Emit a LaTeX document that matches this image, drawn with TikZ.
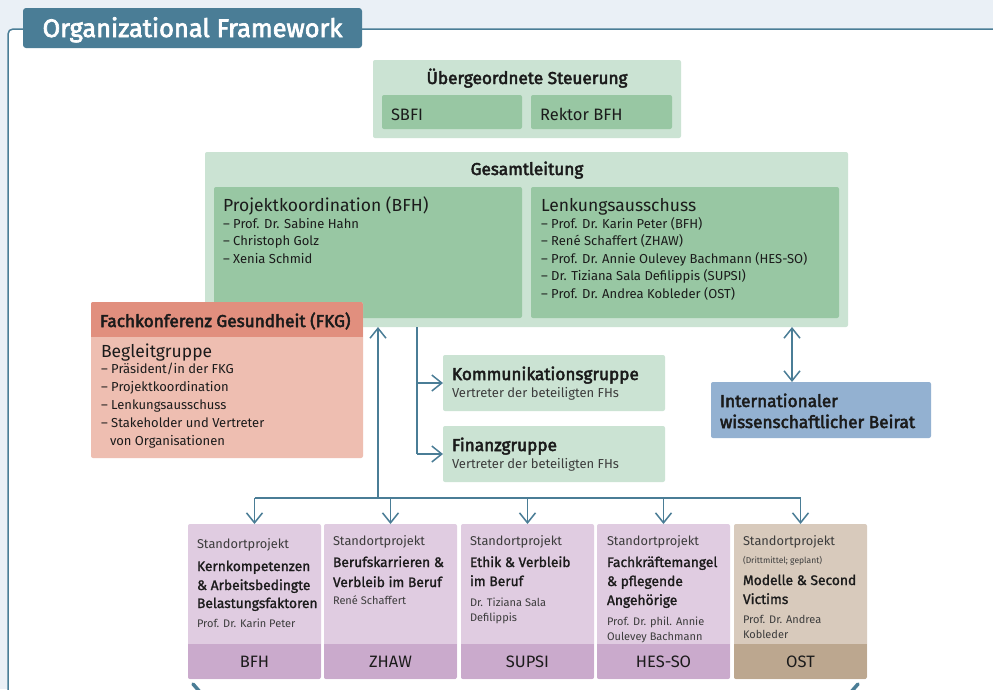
\documentclass[tikz,border=0pt]{standalone}
\usepackage{fontspec}
\setmainfont{Fira Sans}
\newfontfamily\medfont{Fira Sans}[FakeBold=1.4]
\newfontfamily\semifont{Fira Sans}[FakeBold=2.8]
\usetikzlibrary{arrows.meta,fit}
\definecolor{bgc}{HTML}{EAF0F6}
\definecolor{teal}{HTML}{4A7D96}
\definecolor{lgreen}{HTML}{CBE3D3}
\definecolor{mgreen}{HTML}{98C7A3}
\definecolor{salH}{HTML}{E18F7E}
\definecolor{salB}{HTML}{EEBEB1}
\definecolor{blueB}{HTML}{93B1D1}
\definecolor{purB}{HTML}{E0CCE1}
\definecolor{purF}{HTML}{CAAACC}
\definecolor{begB}{HTML}{D8CABC}
\definecolor{begF}{HTML}{BCA78F}
\definecolor{ink}{HTML}{1B1B1B}
\definecolor{subink}{HTML}{3C3C3C}
\newcommand\myfs[1]{\fontsize{#1}{#1}\selectfont}
\begin{document}
\begin{tikzpicture}[x=1pt,y=-1pt,
  boxn/.style={fit={#1}, inner sep=0pt, outer sep=0pt, rounded corners=2pt, draw=none},
  txt/.style={inner sep=0pt, outer sep=0pt, anchor=base west, text=ink},
  hd/.style={txt, font=\semifont\myfs{17.2}},
  big/.style={txt, font=\myfs{17.5}},
  itm/.style={txt, font=\myfs{13}},
  sp/.style={txt, text=subink, font=\myfs{12.8}},
  ttl/.style={txt, font=\medfont\myfs{13.8}},
  nm/.style={txt, text=subink, font=\myfs{11}},
  lnk/.style={draw=teal, line width=1.5pt},
  arr/.style={lnk, -{Straight Barb[length=10pt,width=16pt,line width=1.5pt]}},
  arrb/.style={lnk, {Straight Barb[length=10pt,width=16pt,line width=1.5pt]}-{Straight Barb[length=10pt,width=16pt,line width=1.5pt]}},
]
\useasboundingbox (0,0) rectangle (993,689);
\fill[bgc] (0,0) rectangle (993,689);
\fill[white, rounded corners=5pt] (8,720) |- (1010,29) |- cycle;
\draw[teal, line width=1.5pt, rounded corners=5pt] (8,720) |- (1010,29);

% title tab
\node[boxn={(23,8)(362,48)}, fill=teal, rounded corners=3pt] (tab) {};
\node[inner sep=0pt, anchor=base, text=white, font=\semifont\myfs{25.4}] (title) at (192.5,37) {Organizational Framework};

% Uebergeordnete Steuerung
\node[boxn={(373,60)(681,138)}, fill=lgreen] (ueb) {};
\node[hd, anchor=base] (uebt) at (527,84) {Übergeordnete Steuerung};
\node[boxn={(382,95)(522,129)}, fill=mgreen] (sbfi) {};
\node[boxn={(531,95)(672,129)}, fill=mgreen] (rek) {};
\node[txt, font=\myfs{16.5}] (sbfit) at (391,120) {SBFI};
\node[txt, font=\myfs{16.5}] (rekt) at (540,120) {Rektor BFH};

% Gesamtleitung
\node[boxn={(205,152)(848,327)}, fill=lgreen] (gl) {};
\node[hd, anchor=base] (glt) at (527,175) {Gesamtleitung};
\node[boxn={(214,187)(522,318)}, fill=mgreen] (pk) {};
\node[boxn={(531,187)(839,318)}, fill=mgreen] (la) {};
\node[big] (pkt) at (223,211) {Projektkoordination (BFH)};
\foreach \t [count=\i from 0] in {{– Prof. Dr. Sabine Hahn},{– Christoph Golz},{– Xenia Schmid}}
  \node[itm] (pk\i) at (223,{228+17.5*\i}) {\t};
\node[big] (lat) at (541,211) {Lenkungsausschuss};
\foreach \t [count=\i from 0] in {{– Prof. Dr. Karin Peter (BFH)},{– René Schaffert (ZHAW)},{– Prof. Dr. Annie Oulevey Bachmann (HES-SO)},{– Dr. Tiziana Sala Defilippis (SUPSI)},{– Prof. Dr. Andrea Kobleder (OST)}}
  \node[itm] (la\i) at (541,{228+17.5*\i}) {\t};

% FKG
\node[boxn={(91,302)(363,458)}, fill=salB] (fkg) {};
\begin{scope}
\clip[rounded corners=2pt] (fkg.north west) rectangle (fkg.south east);
\fill[salH] (91,302) rectangle (363,337);
\end{scope}
\node[hd] (fkgt) at (100,327) {Fachkonferenz Gesundheit (FKG)};
\node[big] (bgt) at (101,357) {Begleitgruppe};
\foreach \t [count=\i from 0] in {{– Präsident/in der FKG},{– Projektkoordination},{– Lenkungsausschuss},{– Stakeholder und Vertreter}}
  \node[itm] (bg\i) at (101,{373+18*\i}) {\t};
\node[itm] (bg4) at (110,445) {von Organisationen};

% Kommunikations- / Finanzgruppe
\node[boxn={(443,355)(665,411)}, fill=lgreen] (kom) {};
\node[boxn={(443,426)(665,482)}, fill=lgreen] (fin) {};
\node[hd] (komt) at (452,380) {Kommunikationsgruppe};
\node[sp, font=\myfs{13}] (koms) at (452,397) {Vertreter der beteiligten FHs};
\node[hd] (fint) at (452,451) {Finanzgruppe};
\node[sp, font=\myfs{13}] (fins) at (452,468) {Vertreter der beteiligten FHs};

% Beirat
\node[boxn={(711,382)(931,438)}, fill=blueB] (beirat) {};
\node[hd] (beit1) at (720,407) {Internationaler};
\node[hd] (beit2) at (720,428) {wissenschaftlicher Beirat};

% Standortprojekte
\coordinate (fy) at (0,644);
\foreach \nm/\xx/\bc/\fc/\lab in {bfh/188/purB/purF/BFH, zhaw/324/purB/purF/ZHAW, supsi/461/purB/purF/SUPSI, hesso/597/purB/purF/HES-SO, ost/734/begB/begF/OST} {
  \node[boxn={(\xx,524)({\xx+133},679)}, fill=\bc] (\nm) {};
  \begin{scope}
  \clip[rounded corners=2pt] (\nm.north west) rectangle (\nm.south east);
  \fill[\fc] (\nm.south west) rectangle (\nm.east |- fy);
  \end{scope}
  \node[inner sep=0pt, anchor=base, text=ink, font=\myfs{16.5}] (\nm-l) at ({\xx+66.5},667) {\lab};
}
% BFH
\node[sp] (b1) at (197,548) {Standortprojekt};
\node[ttl] (b2) at (197,571) {Kernkompetenzen};
\node[ttl] (b3) at (197,590) {\& Arbeitsbedingte};
\node[ttl] (b4) at (197,608) {Belastungsfaktoren};
\node[nm] (b5) at (197,627) {Prof. Dr. Karin Peter};
% ZHAW
\node[sp] (z1) at (333,545) {Standortprojekt};
\node[ttl] (z2) at (333,567) {Berufskarrieren \&};
\node[ttl] (z3) at (333,587) {Verbleib im Beruf};
\node[nm] (z4) at (333,604) {René Schaffert};
% SUPSI
\node[sp] (s1) at (470,545) {Standortprojekt};
\node[ttl] (s2) at (470,567) {Ethik \& Verbleib};
\node[ttl] (s3) at (470,586) {im Beruf};
\node[nm] (s4) at (470,606) {Dr. Tiziana Sala};
\node[nm] (s5) at (470,621) {Defilippis};
% HES-SO
\node[sp] (h1) at (607,545) {Standortprojekt};
\node[ttl] (h2) at (607,567) {Fachkräftemangel};
\node[ttl] (h3) at (607,586) {\& pflegende};
\node[ttl] (h4) at (607,605) {Angehörige};
\node[nm] (h5) at (607,625) {Prof. Dr. phil. Annie};
\node[nm] (h6) at (607,640) {Oulevey Bachmann};
% OST
\node[sp] (o1) at (743,545) {Standortprojekt};
\node[nm, font=\myfs{8.5}] (o2) at (743,563) {(Drittmittel; geplant)};
\node[ttl] (o3) at (743,585) {Modelle \& Second};
\node[ttl] (o4) at (743,604) {Victims};
\node[nm] (o5) at (743,623) {Prof. Dr. Andrea};
\node[nm] (o6) at (743,638) {Kobleder};

% connectors
\coordinate (j1) at (378,498);
\draw[lnk] (bfh.north |- j1) -- (ost.north |- j1);
\foreach \nm in {bfh,zhaw,supsi,hesso,ost}
  \draw[arr] (\nm.north |- j1) -- (\nm.north);
\draw[arr] (j1) -- (j1 |- gl.south);
\coordinate (k0) at (417,327);
\draw[lnk] (k0) -- (k0 |- fin.west);
\draw[arr] (k0 |- kom.west) -- (kom.west);
\draw[arr] (k0 |- fin.west) -- (fin.west);
\coordinate (b0) at (792,327);
\draw[arrb] (b0) -- (b0 |- beirat.north);

% cut-off marks at the bottom edge
\coordinate (m1) at (193,684);
\coordinate (m2) at (858,684);
\draw[teal, line width=3.5pt, line cap=round] (m1) -- ++(7,8);
\draw[teal, line width=3.5pt, line cap=round] (m2) -- ++(-7,8);
\end{tikzpicture}
\end{document}
